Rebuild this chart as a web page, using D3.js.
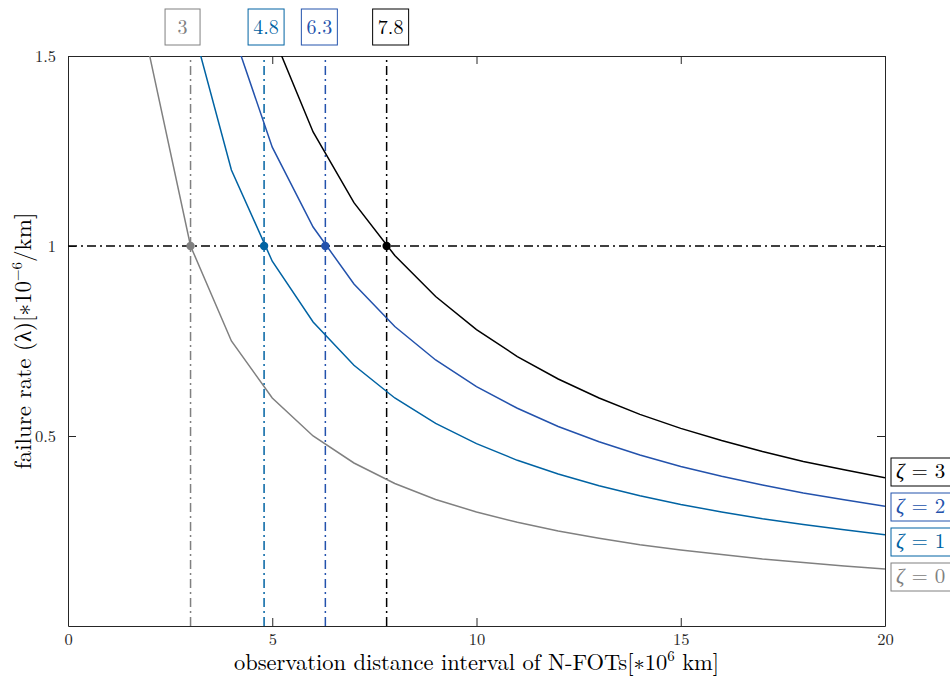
<!DOCTYPE html>
<html>
<head>
<meta charset="utf-8">
<script src="https://cdn.jsdelivr.net/npm/d3@7"></script>
<style>
  body { margin: 0; background: #fff; }
  svg text { font-family: "Latin Modern Roman", "Liberation Serif", "DejaVu Serif", serif; }
</style>
</head>
<body>
<div id="canvas"></div>
<script>
// distance interval samples (x axis, *10^6 km)
var distances = [1, 2, 3, 4, 5, 6, 7, 8, 9, 10, 11, 12, 13, 14, 15, 16, 17, 18, 19, 20];

// failure rate curves, one per zeta
var rateZeta0 = [3, 1.5, 1, 0.75, 0.6, 0.5, 0.429, 0.375, 0.333, 0.3, 0.273, 0.25, 0.231, 0.214, 0.2, 0.188, 0.176, 0.167, 0.158, 0.15];
var rateZeta1 = [4.8, 2.4, 1.6, 1.2, 0.96, 0.8, 0.686, 0.6, 0.533, 0.48, 0.436, 0.4, 0.369, 0.343, 0.32, 0.3, 0.282, 0.267, 0.253, 0.24];
var rateZeta2 = [6.3, 3.15, 2.1, 1.575, 1.26, 1.05, 0.9, 0.788, 0.7, 0.63, 0.573, 0.525, 0.485, 0.45, 0.42, 0.394, 0.371, 0.35, 0.332, 0.315];
var rateZeta3 = [7.8, 3.9, 2.6, 1.95, 1.56, 1.3, 1.114, 0.975, 0.867, 0.78, 0.709, 0.65, 0.6, 0.557, 0.52, 0.488, 0.459, 0.433, 0.411, 0.39];

var zetaValues = ["0", "1", "2", "3"];
var zetaColors = ["#808080", "#0063a3", "#2352ac", "#000000"];
// distance at which each curve crosses the target rate
var crossDistances = [3, 4.8, 6.3, 7.8];
var crossLabels = ["3", "4.8", "6.3", "7.8"];
var targetRate = 1;

var xTicks = [0, 5, 10, 15, 20];
var yTicks = [0.5, 1, 1.5];

var series = [rateZeta0, rateZeta1, rateZeta2, rateZeta3];

// plot area
var margin = {top: 56, right: 65, bottom: 52, left: 68},
	width = 950 - margin.left - margin.right,
	height = 678 - margin.top - margin.bottom;

var svg = d3.select("#canvas").append("svg")
	.attr("width", 950)
	.attr("height", 678);

var x = d3.scaleLinear().domain([0, 20]).range([0, width]);
var y = d3.scaleLinear().domain([0, 1.5]).range([height, 0]);

var g = svg.append("g")
	.attr("transform", "translate(" + margin.left + "," + margin.top + ")");

svg.append("defs").append("clipPath").attr("id", "plotclip")
	.append("rect").attr("width", width).attr("height", height);

var axisColor = "#262626";

// axes with inward ticks on all four sides
var bottomAxis = d3.axisBottom(x).tickValues(xTicks).tickSizeInner(-8).tickSizeOuter(0).tickPadding(7);
var topAxis = d3.axisTop(x).tickValues(xTicks).tickSizeInner(-8).tickSizeOuter(0).tickFormat("");
var leftAxis = d3.axisLeft(y).tickValues(yTicks).tickSizeInner(-8).tickSizeOuter(0).tickPadding(12).tickFormat(d3.format(""));
var rightAxis = d3.axisRight(y).tickValues(yTicks).tickSizeInner(-8).tickSizeOuter(0).tickFormat("");

function styleAxis(sel) {
	sel.select(".domain").attr("stroke", axisColor).attr("stroke-width", 1);
	sel.selectAll(".tick line").attr("stroke", axisColor).attr("stroke-width", 1);
	sel.selectAll(".tick text").attr("fill", axisColor).style("font-size", "16.5px");
}

g.append("g").attr("transform", "translate(0," + height + ")").call(bottomAxis).call(styleAxis);
g.append("g").call(topAxis).call(styleAxis);
g.append("g").call(leftAxis).call(styleAxis);
g.append("g").attr("transform", "translate(" + width + ",0)").call(rightAxis).call(styleAxis);

var plot = g.append("g").attr("clip-path", "url(#plotclip)");

// dash-dot reference lines
var dashDot = "9,4,2,4";
plot.append("line")
	.attr("x1", x(0)).attr("x2", x(20))
	.attr("y1", y(targetRate)).attr("y2", y(targetRate))
	.attr("stroke", "#000").attr("stroke-width", 1.5)
	.attr("stroke-dasharray", dashDot);

plot.selectAll(".vline")
	.data(crossDistances)
	.enter().append("line")
	.attr("class", "vline")
	.attr("x1", function(d) { return x(d); })
	.attr("x2", function(d) { return x(d); })
	.attr("y1", y(0)).attr("y2", y(1.5))
	.attr("stroke", function(d, i) { return zetaColors[i]; })
	.attr("stroke-width", 1.5)
	.attr("stroke-dasharray", dashDot);

// curves
var line = d3.line()
	.x(function(d, i) { return x(distances[i]); })
	.y(function(d) { return y(d); });

plot.selectAll(".curve")
	.data(series)
	.enter().append("path")
	.attr("class", "curve")
	.attr("d", line)
	.attr("fill", "none")
	.attr("stroke", function(d, i) { return zetaColors[i]; })
	.attr("stroke-width", 1.5);

// crossing dots
plot.selectAll(".dot")
	.data(crossDistances)
	.enter().append("circle")
	.attr("cx", function(d) { return x(d); })
	.attr("cy", y(targetRate))
	.attr("r", 4.2)
	.attr("fill", function(d, i) { return zetaColors[i]; });

// boxed value labels above the plot
var topOffsets = [-8, 2, -6, 4];
var topLabel = svg.selectAll(".toplabel")
	.data(crossDistances)
	.enter().append("g")
	.attr("transform", function(d, i) {
		return "translate(" + (margin.left + x(d) + topOffsets[i]) + ",27)";
	});
topLabel.append("rect")
	.attr("x", function(d, i) { return crossLabels[i].length > 1 ? -18 : -17.5; })
	.attr("y", -18)
	.attr("width", function(d, i) { return crossLabels[i].length > 1 ? 36 : 35; })
	.attr("height", 36)
	.attr("fill", "#fff")
	.attr("stroke", function(d, i) { return zetaColors[i]; })
	.attr("stroke-width", 1);
topLabel.append("text")
	.attr("text-anchor", "middle")
	.attr("dy", "0.35em")
	.style("font-size", "20px")
	.attr("fill", function(d, i) { return zetaColors[i]; })
	.text(function(d, i) { return crossLabels[i]; });

// boxed curve names at the right edge
var rightLabel = svg.selectAll(".rightlabel")
	.data(series)
	.enter().append("g")
	.attr("transform", function(d, i) {
		return "translate(891," + (576 - i * 35) + ")";
	});
rightLabel.append("rect")
	.attr("x", 0).attr("y", -13)
	.attr("width", 70).attr("height", 28)
	.attr("fill", "#fff")
	.attr("stroke", function(d, i) { return zetaColors[i]; })
	.attr("stroke-width", 1);
rightLabel.append("text")
	.attr("x", 5)
	.attr("dy", "0.35em")
	.style("font-size", "21px")
	.attr("fill", function(d, i) { return zetaColors[i]; })
	.html(function(d, i) {
		return "<tspan font-style='italic'>\u03B6</tspan> = " + zetaValues[i];
	});

// axis titles
svg.append("text")
	.attr("x", margin.left + width / 2)
	.attr("y", 670)
	.attr("text-anchor", "middle")
	.style("font-size", "22.5px")
	.attr("fill", "#000")
	.html("observation distance interval of N-FOTs[\u221710<tspan dy='-9' font-size='15px'>6</tspan><tspan dy='9'> km]</tspan>");

svg.append("text")
	.attr("transform", "translate(31," + (margin.top + height / 2) + ") rotate(-90)")
	.attr("text-anchor", "middle")
	.style("font-size", "23px")
	.attr("fill", "#000")
	.html("failure rate (\u03BB)[\u221710<tspan dy='-9' font-size='15px'>\u22126</tspan><tspan dy='9'>/km]</tspan>");
</script>
</body>
</html>
